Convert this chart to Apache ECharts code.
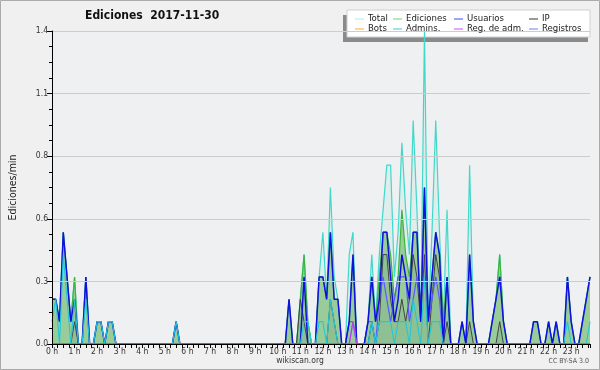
<!DOCTYPE html>
<html><head><meta charset="utf-8">
<script src="https://cdn.jsdelivr.net/npm/echarts@6/dist/echarts.min.js"></script>
<style>html,body{margin:0;padding:0;background:#f0f0f0}#c{width:600px;height:370px}</style>
</head><body><div id="c"></div>
<script>
// 10-minute buckets (0:00 .. 23:50), values in edits/min
const total = [
0.2,0.2,0.1,0.5,0.3,0.1, 0.3,0,0,0.3,0,0, 0.1,0.1,0,0.1,0.1,0, 0,0,0,0,0,0,
0,0,0,0,0,0, 0,0,0,0.1,0,0, 0,0,0,0,0,0, 0,0,0,0,0,0,
0,0,0,0,0,0, 0,0,0,0,0,0, 0,0,0,0.2,0,0, 0.2,0.4,0.1,0,0,0.3,
0.5,0.2,0.7,0.3,0.2,0, 0,0.4,0.5,0,0,0, 0.1,0.4,0.1,0.4,0.6,0.8, 0.8,0.3,0.5,0.9,0.6,0.4,
1.0,0.6,0.1,1.4,0.1,0.5, 1.0,0.5,0.1,0.6,0,0, 0,0.1,0,0.8,0.1,0, 0,0,0,0.1,0.2,0.4,
0.1,0,0,0,0,0, 0,0,0.1,0.1,0,0, 0.1,0,0.1,0,0,0.3, 0.1,0,0,0.1,0.2,0.3];
const ediciones = [
0.2,0.2,0.1,0.5,0.3,0.1, 0.3,0,0,0.3,0,0, 0.1,0.1,0,0.1,0.1,0, 0,0,0,0,0,0,
0,0,0,0,0,0, 0,0,0,0.1,0,0, 0,0,0,0,0,0, 0,0,0,0,0,0,
0,0,0,0,0,0, 0,0,0,0,0,0, 0,0,0,0.2,0,0, 0.2,0.4,0.1,0,0,0.3,
0.3,0.2,0.5,0.2,0.2,0, 0,0.1,0.4,0,0,0, 0.1,0.3,0.1,0.3,0.5,0.5, 0.4,0.2,0.3,0.6,0.4,0.3,
0.5,0.5,0.1,0.7,0.1,0.3, 0.5,0.4,0.1,0.3,0,0, 0,0.1,0,0.4,0.1,0, 0,0,0,0.1,0.2,0.4,
0.1,0,0,0,0,0, 0,0,0.1,0.1,0,0, 0.1,0,0.1,0,0,0.3, 0.1,0,0,0.1,0.2,0.3];
const usuarios = [
0.2,0.2,0.1,0.5,0.3,0.1, 0.2,0,0,0.3,0,0, 0.1,0.1,0,0.1,0.1,0, 0,0,0,0,0,0,
0,0,0,0,0,0, 0,0,0,0.1,0,0, 0,0,0,0,0,0, 0,0,0,0,0,0,
0,0,0,0,0,0, 0,0,0,0,0,0, 0,0,0,0.2,0,0, 0,0.3,0,0,0,0.3,
0.3,0.2,0.5,0.2,0.2,0, 0,0.1,0.4,0,0,0, 0.1,0.3,0.1,0.2,0.5,0.5, 0.3,0.1,0.2,0.4,0.3,0.2,
0.5,0.5,0.1,0.7,0.1,0.3, 0.5,0.4,0,0.3,0,0, 0,0.1,0,0.4,0.1,0, 0,0,0,0.1,0.2,0.3,
0.1,0,0,0,0,0, 0,0,0.1,0.1,0,0, 0.1,0,0.1,0,0,0.3, 0.1,0,0,0.1,0.2,0.3];
const ip = [
0,0,0,0,0,0, 0.1,0,0,0,0,0, 0,0,0,0,0,0, 0,0,0,0,0,0,
0,0,0,0,0,0, 0,0,0,0,0,0, 0,0,0,0,0,0, 0,0,0,0,0,0,
0,0,0,0,0,0, 0,0,0,0,0,0, 0,0,0,0,0,0, 0.2,0.1,0,0,0,0,
0,0,0.2,0.1,0,0, 0,0,0,0,0,0, 0,0.1,0,0.1,0.4,0.4, 0.2,0.1,0.1,0.2,0.1,0.2,
0.4,0.3,0.1,0.4,0,0.2, 0.4,0.3,0,0.1,0,0, 0,0,0,0.1,0,0, 0,0,0,0,0,0.1,
0,0,0,0,0,0, 0,0,0,0,0,0, 0,0,0,0,0,0, 0,0,0,0,0,0];
const bots = [
0,0,0,0,0,0, 0,0,0,0,0,0, 0,0,0,0,0,0, 0,0,0,0,0,0,
0,0,0,0,0,0, 0,0,0,0,0,0, 0,0,0,0,0,0, 0,0,0,0,0,0,
0,0,0,0,0,0, 0,0,0,0,0,0, 0,0,0,0,0,0, 0,0,0,0,0,0,
0,0,0,0,0,0, 0,0,0,0,0,0, 0,0,0,0,0,0, 0,0,0,0,0,0,
0,0,0,0,0,0, 0,0,0,0,0,0, 0,0,0,0,0,0, 0,0,0,0,0,0,
0,0,0,0,0,0, 0,0,0,0,0,0, 0,0,0,0,0,0, 0,0,0,0,0,0];
const admins = [
0.1,0.2,0,0.4,0.2,0, 0.2,0,0,0.2,0,0, 0.1,0.1,0,0.1,0.1,0, 0,0,0,0,0,0,
0,0,0,0,0,0, 0,0,0,0.1,0,0, 0,0,0,0,0,0, 0,0,0,0,0,0,
0,0,0,0,0,0, 0,0,0,0,0,0, 0,0,0,0,0,0, 0,0.1,0.1,0,0,0.1,
0.1,0,0.2,0.1,0,0, 0,0,0.1,0,0,0, 0,0.1,0,0.1,0.1,0.1, 0.1,0,0.1,0.1,0.1,0,
0.2,0.1,0,0.3,0,0.1, 0.1,0.1,0,0,0,0, 0,0,0,0,0,0, 0,0,0,0,0,0,
0,0,0,0,0,0, 0,0,0,0,0,0, 0,0,0,0,0,0.1, 0,0,0,0,0,0.1];
const regAdm = [
0,0,0,0,0,0, 0,0,0,0,0,0, 0,0,0,0,0,0, 0,0,0,0,0,0,
0,0,0,0,0,0, 0,0,0,0,0,0, 0,0,0,0,0,0, 0,0,0,0,0,0,
0,0,0,0,0,0, 0,0,0,0,0,0, 0,0,0,0,0,0, 0,0,0,0,0,0,
0,0,0,0,0,0, 0,0,0.1,0,0,0, 0,0,0,0,0,0, 0,0,0,0,0,0,
0,0,0,0,0,0, 0,0,0,0,0,0, 0,0,0,0,0,0, 0,0,0,0,0,0,
0,0,0,0,0,0, 0,0,0,0,0,0, 0,0,0,0,0,0, 0,0,0,0,0,0];
const registros = [
0,0,0,0,0,0, 0,0,0,0,0,0, 0,0,0,0,0,0, 0,0,0,0,0,0,
0,0,0,0,0,0, 0,0,0,0,0,0, 0,0,0,0,0,0, 0,0,0,0,0,0,
0,0,0,0,0,0, 0,0,0,0,0,0, 0,0,0,0,0,0, 0,0,0,0,0,0,
0,0,0,0,0,0, 0,0.1,0.1,0,0,0, 0.1,0.1,0,0.2,0.3,0.2, 0.1,0.2,0.3,0.3,0.3,0.1,
0.2,0.3,0.2,0.3,0.1,0.2, 0.3,0.2,0,0,0,0, 0,0,0,0,0,0, 0,0,0,0,0,0,
0,0,0,0,0,0, 0,0,0,0,0,0, 0,0,0,0,0,0, 0,0,0,0,0,0];
const stepMinutes = 10;
const titleText = 'Ediciones  2017-11-30';
const yName = 'Ediciones/min';

const FONT = 'DejaVu Sans Condensed, DejaVu Sans';
const pts = a => a.map((v, i) => [i * stepMinutes, v]);
function ln(name, data, color, width, extra) {
  return Object.assign({
    name, type: 'line', data: pts(data), showSymbol: false, symbol: 'none',
    lineStyle: { color, width }, itemStyle: { color }, animation: false
  }, extra || {});
}
const chart = echarts.init(document.getElementById('c'), null, { renderer: 'canvas' });
function leg(left, names, colors) {
  return {
    left, top: 14, orient: 'vertical', padding: 0, itemGap: 0, z: 100, zlevel: 0,
    itemWidth: 9, itemHeight: 1, icon: 'rect', selectedMode: false,
    textStyle: { fontSize: 9.5, lineHeight: 10, color: '#222', fontFamily: FONT, padding: [0, 0, 0, -1] },
    data: names.map((n, k) => ({ name: n, itemStyle: { color: colors[k] } }))
  };
}
chart.setOption({
  backgroundColor: '#f0f0f0',
  textStyle: { fontFamily: FONT },
  animation: false,
  grid: { left: 46, top: 31, width: 544, height: 313, show: true, backgroundColor: '#eef0f2', borderWidth: 0 },
  legend: [
    leg(355, ['Total', 'Bots'], ['#a8ecec', '#ffaa22']),
    leg(393, ['Ediciones', 'Admins.'], ['#77cc77', '#33ccdd']),
    leg(454, ['Usuarios', 'Reg. de adm.'], ['#4444ff', '#dd44ff']),
    leg(529, ['IP', 'Registros'], ['#333333', '#7777ff'])
  ],
  xAxis: {
    type: 'value', min: 0, max: 1430, interval: 60, z: 10,
    axisLine: { lineStyle: { color: '#000', width: 1 } },
    axisTick: { length: 4, lineStyle: { color: '#000' } },
    minorTick: { show: true, splitNumber: 4, length: 4, lineStyle: { color: '#000' } },
    splitLine: { show: false },
    axisLabel: { fontSize: 8.5, color: '#333', margin: 3, formatter: v => (v / 60) + ' h', fontFamily: FONT }
  },
  yAxis: {
    type: 'value', min: 0, max: 1.4, interval: 0.28, z: 10,
    name: yName, nameLocation: 'middle', nameGap: 33,
    nameTextStyle: { fontSize: 10.5, color: '#222', fontFamily: FONT },
    axisLine: { show: true, lineStyle: { color: '#000', width: 1 } },
    axisTick: { show: true, length: 5, lineStyle: { color: '#000' } },
    minorTick: { show: true, splitNumber: 4, length: 3, lineStyle: { color: '#000' } },
    splitLine: { show: true, lineStyle: { color: '#cccccc', width: 1 } },
    axisLabel: { fontSize: 8.5, color: '#333', margin: 4, formatter: v => v.toFixed(1), fontFamily: FONT }
  },
  series: [
    ln('Total', total, '#40d8c8', 1.2, { areaStyle: { color: 'rgba(120,220,205,0.18)' } }),
    ln('Ediciones', ediciones, '#3cb43c', 1.2, { areaStyle: { color: '#99cc99', opacity: 1 } }),
    ln('IP', ip, '#444444', 1, { areaStyle: { color: 'rgba(40,80,90,0.14)' } }),
    ln('Registros', registros, '#5a5aff', 1.2),
    ln('Bots', bots, '#ff9900', 1),
    ln('Usuarios', usuarios, '#1010e0', 1.5),
    ln('Admins.', admins, '#22c8d8', 1.1),
    ln('Reg. de adm.', regAdm, '#cc33ee', 1.2)
  ],
  graphic: [
    { type: 'rect', shape: { x: 343, y: 15, width: 245, height: 27 }, style: { fill: '#8a8a8a' }, z: 1, zlevel: 0 },
    { type: 'rect', shape: { x: 347, y: 10, width: 243, height: 27 }, style: { fill: '#ffffff', stroke: '#d0d0d0', lineWidth: 1 }, z: 2, zlevel: 0 },
    { type: 'text', left: 85, top: 10, style: { text: titleText, font: 'bold 12px ' + FONT, fill: '#111' }, z: 60 },
    { type: 'text', left: 'center', top: 356, style: { text: 'wikiscan.org', font: '8.5px ' + FONT, fill: '#333' }, z: 60 },
    { type: 'text', right: 11, top: 358, style: { text: 'CC BY-SA 3.0', font: '7px ' + FONT, fill: '#555' }, z: 60 },
    { type: 'rect', shape: { x: 0.5, y: 0.5, width: 599, height: 369 }, style: { fill: 'none', stroke: '#aaaaaa', lineWidth: 1 }, z: 70 }
  ]
});
</script></body></html>
